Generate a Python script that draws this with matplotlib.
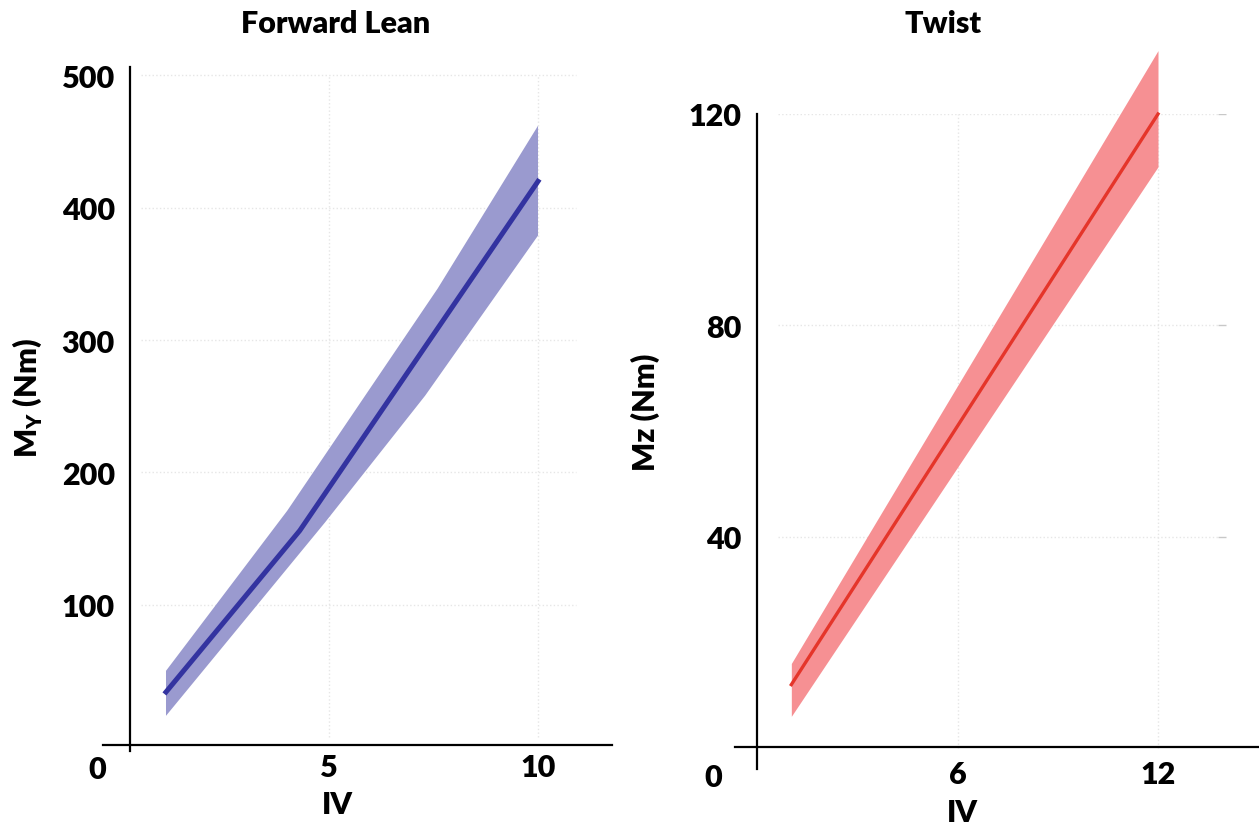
import matplotlib
matplotlib.use("Agg")
import matplotlib.pyplot as plt

plt.rcParams['font.family'] = ['Lato', 'DejaVu Sans']
plt.rcParams['font.weight'] = 'heavy'
plt.rcParams['mathtext.fontset'] = 'custom'
plt.rcParams['mathtext.rm'] = 'Lato:heavy'
plt.rcParams['mathtext.bf'] = 'Lato:heavy'

# Forward Lean (left panel)
lean_x = [1.1, 4.3, 7.3, 10]
lean_mean = [34, 156, 295, 420]
lean_up_x = [1.1, 4.0, 7.6, 10]
lean_up = [50, 171, 339, 462]
lean_lo_x = [1.1, 4.9, 7.3, 10]
lean_lo = [16, 162, 258, 379]
lean_xticks = [5, 10]
lean_yticks = [100, 200, 300, 400, 500]

# Twist (right panel)
twist_x = [1, 6.5, 12]
twist_mean = [12, 66, 120]
twist_up = [16, 74, 132]
twist_lo = [6, 58, 110]
twist_xticks = [6, 12]
twist_yticks = [40, 80, 120]

W, H = 1259, 829
fig = plt.figure(figsize=(W / 100, H / 100), dpi=100)


def px_box(x0, x1, ytop, ybot):
    return [x0 / W, 1 - ybot / H, (x1 - x0) / W, (ybot - ytop) / H]


grid_col = '#e6e6e6'
fs = 22

# ---- left panel
ax1 = fig.add_axes(px_box(103, 612, 68, 752))
ax1.set_xlim(-0.407, 11.77)
ax1.set_ylim(-10.58, 506.4)
ax1.hlines(lean_yticks, 0.5, 10.9, colors=grid_col, linestyles=':', linewidth=1, zorder=0)
ax1.vlines(lean_xticks, 0, 500, colors=grid_col, linestyles=':', linewidth=1, zorder=0)
band = list(zip(lean_up_x, lean_up)) + list(zip(lean_lo_x[::-1], lean_lo[::-1]))
ax1.fill([p[0] for p in band], [p[1] for p in band], color='#9a9acf', lw=0, zorder=1)
ax1.plot(lean_x, lean_mean, color='#3333a0', lw=3.6, zorder=2)

# ---- right panel
ax2 = fig.add_axes(px_box(735, 1259, 115, 770))
ax2.set_xlim(-0.69, 15.03)
ax2.set_ylim(-3.97, 119.9)
ax2.hlines(twist_yticks, 0.6, 13.8, colors=grid_col, linestyles=':', linewidth=1, zorder=0)
ax2.hlines(twist_yticks, 13.8, 14.05, colors='#c8c8c8', linewidth=1, zorder=0)
ax2.vlines(twist_xticks, 0, 120, colors=grid_col, linestyles=':', linewidth=1, zorder=0)
ax2.fill_between(twist_x, twist_lo, twist_up, color='#f69093', lw=0, zorder=1, clip_on=False)
ax2.plot(twist_x, twist_mean, color='#e5352a', lw=2.4, zorder=2, clip_on=False)

for ax, xt, yt, sx, sy in [(ax1, lean_xticks, lean_yticks, 0.24, -6.05),
                           (ax2, twist_xticks, twist_yticks, -0.03, 0.28)]:
    for s in ['top', 'right']:
        ax.spines[s].set_visible(False)
    ax.spines['left'].set_position(('data', sx))
    ax.spines['bottom'].set_position(('data', sy))
    for s in ['left', 'bottom']:
        ax.spines[s].set_linewidth(1.6)
        ax.spines[s].set_color('black')
    ax.set_xticks(xt)
    ax.set_yticks(yt)
    ax.tick_params(axis='both', length=0, labelsize=fs)
    ax.tick_params(axis='y', pad=11)
    for lab in ax.get_xticklabels() + ax.get_yticklabels():
        lab.set_fontweight('heavy')
    ax.set_facecolor('none')

ax1.tick_params(axis='x', pad=6)
ax2.tick_params(axis='x', pad=10)


def ftext(x, y, s, **kw):
    fig.text(x / W, 1 - y / H, s, ha='center', va='center', fontweight='heavy', **kw)


ftext(336, 24, 'Forward Lean', fontsize=22)
ftext(943, 24, 'Twist', fontsize=22)
ftext(97, 770, '0', fontsize=fs)
ftext(713, 778, '0', fontsize=fs)
ftext(337, 805, 'IV', fontsize=22)
ftext(962, 813, 'IV', fontsize=22)
ftext(27, 398, r'M$_{\mathrm{Y}}$ (Nm)', fontsize=22, rotation=90)
ftext(645, 412, 'Mz (Nm)', fontsize=22, rotation=90)

fig.savefig('out.png', dpi=100)
